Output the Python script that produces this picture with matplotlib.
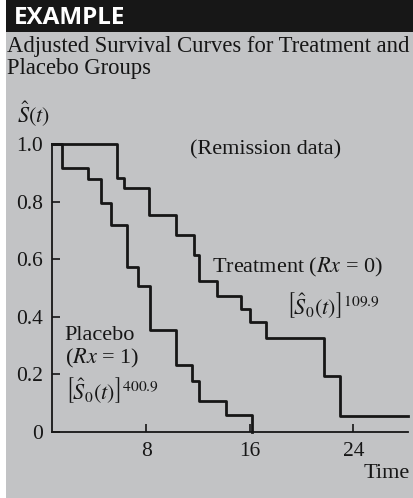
import matplotlib
matplotlib.use("Agg")
import matplotlib.pyplot as plt
from matplotlib.patches import Rectangle

# adjusted survival step curves (remission data)
placebo_t = [0.69, 1.5, 3.5, 4.47, 5.27, 6.5, 7.33, 8.28, 10.27, 11.5, 12.07, 14.13, 16.14]
placebo_s = [1.0, 0.918, 0.878, 0.794, 0.719, 0.572, 0.506, 0.354, 0.232, 0.178, 0.108, 0.059, 0.0]

treat_t = [0.69, 5.76, 6.24, 8.18, 10.32, 11.68, 12.09, 13.46, 15.29, 16.01, 17.21, 21.71, 22.97, 28.22]
treat_s = [1.0, 0.881, 0.847, 0.753, 0.684, 0.615, 0.523, 0.473, 0.426, 0.381, 0.325, 0.193, 0.054, 0.054]

xticks = [8, 16, 24]
yticks = [0, 0.2, 0.4, 0.6, 0.8, 1.0]
ytick_labels = ["0", "0.2", "0.4", "0.6", "0.8", "1.0"]

plt.rcParams["font.family"] = ["Liberation Serif", "DejaVu Serif"]
plt.rcParams["mathtext.fontset"] = "stix"

bg = "#c2c3c5"
ink = "#161616"
fs = 16

fig = plt.figure(figsize=(4.13, 4.98), dpi=100, facecolor=bg)

# banner and left strip
fig.patches.append(Rectangle((0, 1 - 32 / 498), 1, 32 / 498, transform=fig.transFigure,
                             facecolor="#171717", edgecolor="none", zorder=0))
fig.patches.append(Rectangle((0, 0), 6 / 413, 1, transform=fig.transFigure,
                             facecolor="white", edgecolor="none", zorder=1))
fig.text(14 / 413, 1 - 18 / 498, "EXAMPLE", color="white", fontsize=17.5, fontweight="bold",
         family="Open Sans", va="center", ha="left")

fig.text(7 / 413, 1 - 52 / 498, "Adjusted Survival Curves for Treatment and",
         fontsize=16.3, color=ink, va="baseline", ha="left")
fig.text(7 / 413, 1 - 74 / 498, "Placebo Groups",
         fontsize=16.3, color=ink, va="baseline", ha="left")

ax = fig.add_axes([51.7 / 413, 1 - 432 / 498, (408 - 51.7) / 413, (432 - 144) / 498])
ax.set_facecolor("none")

ax.step(treat_t, treat_s, where="post", color=ink, lw=2.0, clip_on=False)
ax.step(placebo_t, placebo_s, where="post", color=ink, lw=2.0, clip_on=False)

ax.set_xlim(0.69, 28.22)
ax.set_ylim(0, 1.0)
ax.set_xticks(xticks)
ax.set_xticklabels([str(v) for v in xticks])
ax.set_yticks(yticks)
ax.set_yticklabels(ytick_labels)
ax.tick_params(direction="in", length=6, width=1.2, color=ink, labelcolor=ink,
               labelsize=15.5)
ax.tick_params(axis="y", pad=6)
ax.tick_params(axis="x", pad=7)
for side in ["top", "right"]:
    ax.spines[side].set_visible(False)
for side in ["left", "bottom"]:
    ax.spines[side].set_linewidth(1.3)
    ax.spines[side].set_color(ink)

fig.text(17 / 413, 1 - 114 / 498, r"$\hat{S}(t)$", fontsize=16, color=ink, va="center")
fig.text(1 - 3 / 413, 1 - 473 / 498, "Time", fontsize=fs, color=ink, va="center", ha="right")

ax.text(11.4, 0.978, "(Remission data)", fontsize=fs, color=ink, va="center", ha="left")
ax.text(13.1, 0.57, r"Treatment ($Rx$ = 0)", fontsize=fs, color=ink, va="center", ha="left")
ax.text(18.8, 0.44, r"$\left[\hat{S}_0(t)\right]^{109.9}$", fontsize=fs, color=ink,
        va="center", ha="left")
ax.text(1.7, 0.335, "Placebo", fontsize=fs, color=ink, va="center", ha="left")
ax.text(1.7, 0.255, r"($Rx$ = 1)", fontsize=fs, color=ink, va="center", ha="left")
ax.text(1.7, 0.145, r"$\left[\hat{S}_0(t)\right]^{400.9}$", fontsize=fs, color=ink,
        va="center", ha="left")

fig.savefig("out.png", dpi=100, facecolor=bg)
